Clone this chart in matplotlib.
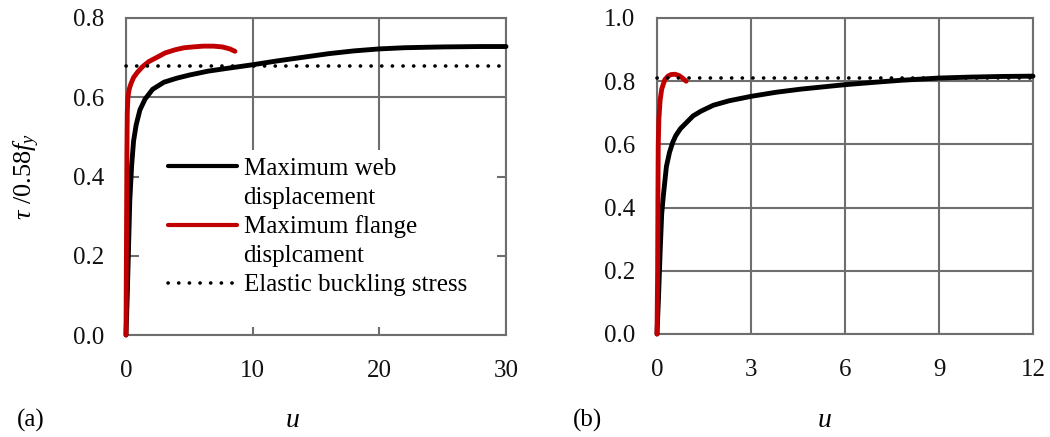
import matplotlib
matplotlib.use("Agg")
import matplotlib.pyplot as plt
from matplotlib.lines import Line2D
from matplotlib.patches import Rectangle
from matplotlib.ticker import FormatStrFormatter

plt.rcParams['font.family'] = ['Liberation Serif', 'DejaVu Serif']
plt.rcParams['mathtext.fontset'] = 'custom'
plt.rcParams['mathtext.rm'] = 'Liberation Serif'
plt.rcParams['mathtext.it'] = 'Liberation Serif:italic'

# ---- data (a) ----
u_web_a = [0, 0.1, 0.2, 0.3, 0.45, 0.6, 0.8, 1.1, 1.5, 2.1, 3.0, 4.0, 5.0, 6.5, 8.0,
           10, 12, 14, 16, 18, 20, 22, 25, 28, 30]
tau_web_a = [0, 0.1, 0.22, 0.34, 0.43, 0.49, 0.53, 0.568, 0.595, 0.62, 0.638, 0.648,
             0.656, 0.666, 0.673, 0.682, 0.692, 0.701, 0.710, 0.717, 0.722, 0.725,
             0.727, 0.728, 0.728]
u_fl_a = [0, 0.04, 0.07, 0.1, 0.15, 0.25, 0.4, 0.6, 0.9, 1.3, 1.8, 2.4, 3.1, 3.9,
          4.6, 5.3, 6.1, 6.9, 7.6, 8.2, 8.6]
tau_fl_a = [0, 0.25, 0.45, 0.56, 0.6, 0.62, 0.635, 0.65, 0.663, 0.677, 0.69, 0.70,
            0.712, 0.72, 0.725, 0.727, 0.729, 0.729, 0.727, 0.722, 0.716]
elastic_a = 0.68

# ---- data (b) ----
u_web_b = [0, 0.05, 0.1, 0.15, 0.2, 0.3, 0.4, 0.5, 0.6, 0.75, 0.9, 1.15, 1.4, 1.8,
           2.3, 3.0, 3.8, 4.6, 5.3, 6.0, 7.0, 7.8, 9.0, 10, 11, 12]
tau_web_b = [0, 0.12, 0.26, 0.38, 0.435, 0.53, 0.575, 0.606, 0.628, 0.65, 0.665,
             0.69, 0.705, 0.724, 0.738, 0.752, 0.765, 0.775, 0.782, 0.789, 0.797,
             0.803, 0.81, 0.813, 0.815, 0.816]
u_fl_b = [0, 0.02, 0.03, 0.04, 0.06, 0.1, 0.15, 0.25, 0.35, 0.45, 0.57, 0.7, 0.8, 0.93]
tau_fl_b = [0, 0.2, 0.43, 0.6, 0.68, 0.74, 0.775, 0.805, 0.816, 0.821, 0.822,
            0.818, 0.811, 0.80]
elastic_b = 0.81

xticks_a = [0, 10, 20, 30]
yticks_a = [0.0, 0.2, 0.4, 0.6, 0.8]
xticks_b = [0, 3, 6, 9, 12]
yticks_b = [0.0, 0.2, 0.4, 0.6, 0.8, 1.0]

labels = ["Maximum web", "displacement", "Maximum flange", "displcament",
          "Elastic buckling stress"]

BLACK = '#000000'
RED = '#C00000'
GRID = '#6e6e6e'
FS = 18
LW = 3.5
dot_style = (0, (0.05, 2.9))
DOT_LW = 2.6

W, H = 1050, 437
fig = plt.figure(figsize=(W / 100, H / 100), dpi=100)
ax1 = fig.add_axes([126 / W, 1 - 335 / H, 380 / W, 317 / H])
ax2 = fig.add_axes([657 / W, 1 - 334 / H, 376 / W, 316 / H])


def style(ax, xt, yt, xmax, ymax):
    ax.set_xlim(0, xmax)
    ax.set_ylim(0, ymax)
    ax.set_xticks(xt)
    ax.set_yticks(yt)
    ax.yaxis.set_major_formatter(FormatStrFormatter('%.1f'))
    ax.grid(True, color=GRID, lw=1.5)
    ax.set_axisbelow(True)
    for s in ax.spines.values():
        s.set_color(GRID)
        s.set_linewidth(1.5)
    ax.tick_params(length=0, labelsize=FS, colors='#111111')
    ax.tick_params(axis='y', pad=16)
    ax.tick_params(axis='x', pad=18)


style(ax1, xticks_a, yticks_a, 30, 0.8)
style(ax2, xticks_b, yticks_b, 12, 1.0)

# (a)
ax1.add_patch(Rectangle((0.034, 0.025), 0.942, 0.56, transform=ax1.transAxes,
                        facecolor='white', edgecolor='none', zorder=1))
ax1.plot(u_web_a, tau_web_a, color=BLACK, lw=LW, zorder=3, clip_on=False,
         solid_capstyle='round')
ax1.plot(u_fl_a, tau_fl_a, color=RED, lw=LW, zorder=4, clip_on=False,
         solid_capstyle='round')
ax1.plot([0, 30], [elastic_a, elastic_a], color=BLACK, lw=DOT_LW, ls=dot_style,
         dash_capstyle='round', zorder=5, clip_on=False)

# (b)
ax2.plot(u_web_b, tau_web_b, color=BLACK, lw=LW, zorder=3, clip_on=False,
         solid_capstyle='round')
ax2.plot(u_fl_b, tau_fl_b, color=RED, lw=LW, zorder=4, clip_on=False,
         solid_capstyle='round')
ax2.plot([0, 12], [elastic_b, elastic_b], color=BLACK, lw=DOT_LW, ls=dot_style,
         dash_capstyle='round', zorder=5, clip_on=False)

# legend
handles = [Line2D([], [], color=BLACK, lw=3.0, solid_capstyle='round'),
           Line2D([], [], color='none'),
           Line2D([], [], color=RED, lw=3.0, solid_capstyle='round'),
           Line2D([], [], color='none'),
           Line2D([], [], color=BLACK, lw=DOT_LW, ls=dot_style, dash_capstyle='round')]
leg = ax1.legend(handles, labels, loc='upper left', bbox_to_anchor=(0.11, 0.56),
                 frameon=False, fontsize=FS, borderpad=0, borderaxespad=0,
                 handlelength=2.75, handletextpad=0.28, labelspacing=0.26)
leg.set_zorder(6)

ax1.set_ylabel(r'$\tau$ /0.58$f_y$', fontsize=FS + 1)
ax1.yaxis.set_label_coords(-0.222, 0.5)

fig.text(293 / W, 1 - 427 / H, 'u', fontsize=FS + 2, style='italic', ha='center',
         va='baseline')
fig.text(825 / W, 1 - 427 / H, 'u', fontsize=FS + 2, style='italic', ha='center',
         va='baseline')
fig.text(17 / W, 1 - 427 / H, '(a)', fontsize=FS, ha='left', va='baseline')
fig.text(573 / W, 1 - 427 / H, '(b)', fontsize=FS, ha='left', va='baseline')

fig.savefig('out.png', dpi=100)
